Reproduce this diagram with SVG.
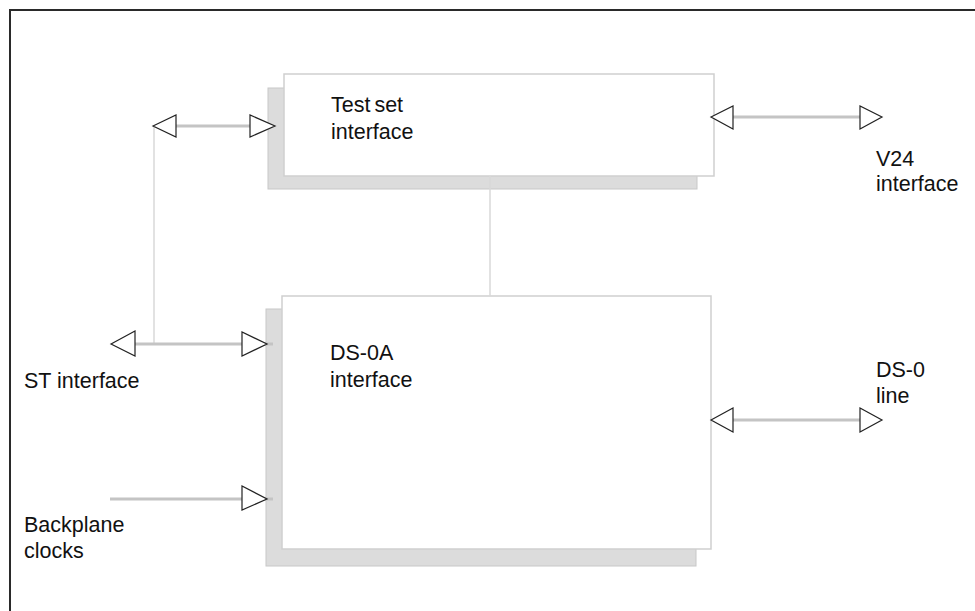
<svg xmlns="http://www.w3.org/2000/svg" width="975" height="611" viewBox="0 0 975 611">
  <style>
    .lbl { font-family: "Liberation Sans", Arial, sans-serif; font-size: 21.5px; fill: #111; }
    .shadow { fill: #dcdcdc; stroke: #c8c8c8; stroke-width: 1; }
    .box { fill: #fff; stroke: #cfcfcf; stroke-width: 1.5; }
    .wire { stroke: #c4c4c4; stroke-width: 3; fill: none; }
    .thin { stroke: #d8d8d8; stroke-width: 1.5; fill: none; }
    .tri { fill: #fff; stroke: #222; stroke-width: 1.2; stroke-linejoin: miter; }
  </style>

  <!-- outer frame (top and left rule) -->
  <path d="M10,611 V10 H975" fill="none" stroke="#2a2a2a" stroke-width="2"/>

  <g id="test-set-interface">
    <rect class="shadow" x="268" y="88" width="429" height="101"/>
    <rect class="box" x="284" y="74" width="430" height="102"/>
    <text class="lbl" x="331" y="112" word-spacing="-2">Test set</text>
    <text class="lbl" x="331" y="139">interface</text>
  </g>

  <g id="ds0a-interface">
    <rect class="shadow" x="266" y="309" width="430" height="257"/>
    <rect class="box" x="282" y="296" width="429" height="253"/>
    <text class="lbl" x="330" y="360">DS-0A</text>
    <text class="lbl" x="330" y="387">interface</text>
  </g>

  <g id="connectors">
    <!-- link between the two blocks -->
    <line class="thin" x1="490" y1="176" x2="490" y2="296"/>
    <!-- ST bus riser to test set -->
    <line class="thin" x1="154" y1="126" x2="154" y2="344"/>
    <line class="wire" x1="170" y1="126" x2="255" y2="126"/>
    <polygon class="tri" points="153,126 176,115 176,137"/>
    <polygon class="tri" points="250,115 250,137 275,126"/>
    <!-- V24 -->
    <line class="wire" x1="728" y1="117" x2="865" y2="117"/>
    <polygon class="tri" points="711,117 733,106 733,129"/>
    <polygon class="tri" points="860,106 860,129 882,117"/>
    <!-- ST interface -->
    <line class="wire" x1="130" y1="344" x2="273" y2="344"/>
    <polygon class="tri" points="111,344 135,331 135,356"/>
    <polygon class="tri" points="242,332 242,356 267,344"/>
    <!-- backplane clocks -->
    <line class="wire" x1="110" y1="499" x2="273" y2="499"/>
    <polygon class="tri" points="242,486 242,510 267,499"/>
    <!-- DS-0 line -->
    <line class="wire" x1="728" y1="420" x2="865" y2="420"/>
    <polygon class="tri" points="711,420 733,408 733,432"/>
    <polygon class="tri" points="860,408 860,432 882,420"/>
  </g>

  <g id="labels">
    <text class="lbl" x="876" y="166">V24</text>
    <text class="lbl" x="876" y="191">interface</text>
    <text class="lbl" x="24" y="388">ST interface</text>
    <text class="lbl" x="876" y="377">DS-0</text>
    <text class="lbl" x="876" y="403">line</text>
    <text class="lbl" x="24" y="532">Backplane</text>
    <text class="lbl" x="24" y="558">clocks</text>
  </g>
</svg>
